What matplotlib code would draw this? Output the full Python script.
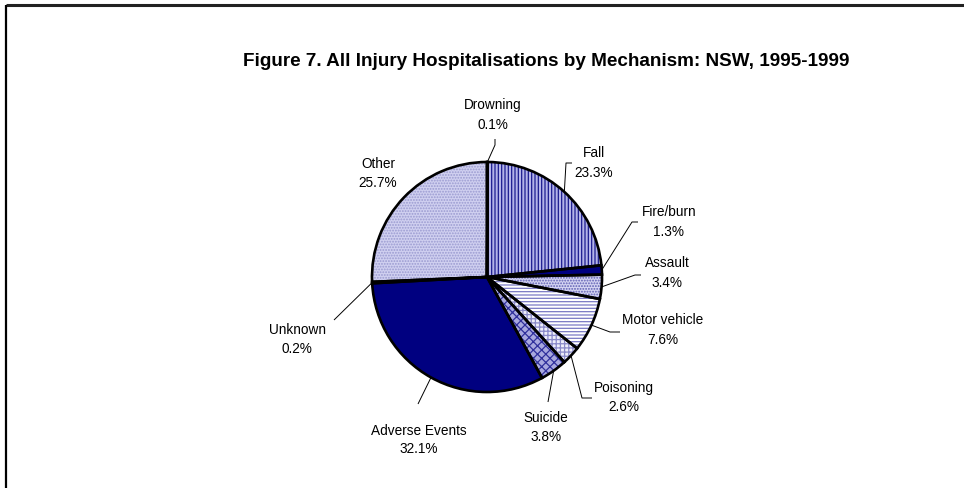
import numpy as np
import matplotlib
matplotlib.use("Agg")
import matplotlib.pyplot as plt

plt.rcParams['font.family'] = ['Liberation Sans', 'DejaVu Sans']
plt.rcParams['hatch.linewidth'] = 0.9

# ---- data ----
categories = ["Drowning", "Fall", "Fire/burn", "Assault", "Motor vehicle",
              "Poisoning", "Suicide", "Adverse Events", "Unknown", "Other"]
percent = [0.1, 23.3, 1.3, 3.4, 7.6, 2.6, 3.8, 32.1, 0.2, 25.7]
title = "Figure 7. All Injury Hospitalisations by Mechanism: NSW, 1995-1999"

# ---- styles ----
faces = ['#e0e0f4', '#b4b4e8', '#000080', '#d4d4f2', '#ffffff',
         '#eeeefa', '#a8a8de', '#000080', '#000080', '#d0d0f0']
hatches = ['....', '|||||', '', '......', '-----',
           '++++', 'xxxx', '', '', '......']
hatch_cols = ['#8080c0', '#1c1c90', '#000080', '#5e5eb2', '#7a7ac4',
              '#8a8ac8', '#30309c', '#000080', '#000080', '#9a9ad0']

# label layout (pixel coords, y down): text centre x, line1 y, line2 y
label_pos = [(493, 105, 125), (594, 153, 173), (669, 212, 232), (667, 263, 283),
             (663, 320, 340), (624, 388, 407), (546, 418, 437), (419, 431, 449),
             (297, 330, 349), (378, 164, 183)]
# leader line waypoints after the wedge edge point (pixel coords, y down)
leaders = [[(495, 145), (495, 139)], [(566, 163), (572, 163)], [(632, 222), (638, 222)],
           [(635, 275), (641, 275)], [(610, 332), (620, 332)], [(582, 398), (592, 398)],
           [(548, 402)], [(418, 404)], [(334, 320)], None]

W, H = 964, 488
CX, CY, R = 487, 277, 115


def Y(py):
    return H - py


fig = plt.figure(figsize=(W / 100, H / 100), dpi=100)
ax = fig.add_axes([0, 0, 1, 1])

w1, _ = ax.pie(percent, startangle=90, counterclock=False, center=(CX, Y(CY)),
               radius=R, colors=faces, wedgeprops=dict(linewidth=0))
for w, h, hc in zip(w1, hatches, hatch_cols):
    w.set_hatch(h)
    w.set_edgecolor(hc)
    w.set_linewidth(0)
w2, _ = ax.pie(percent, startangle=90, counterclock=False, center=(CX, Y(CY)),
               radius=R, wedgeprops=dict(fill=False, edgecolor='black', linewidth=1.9))

ax.set_xlim(0, W)
ax.set_ylim(0, H)
ax.set_aspect('equal')
ax.axis('off')

# labels and leader lines
for w, name, val, (tx, y1, y2), ld in zip(w2, categories, percent, label_pos, leaders):
    ax.text(tx, Y(y1), name, ha='center', va='center', fontsize=9.8, color='black')
    ax.text(tx, Y(y2), f"{val:.1f}%", ha='center', va='center', fontsize=9.8, color='black')
    if ld:
        mid = np.deg2rad((w.theta1 + w.theta2) / 2)
        ex, ey = CX + R * np.cos(mid), Y(CY) + R * np.sin(mid)
        xs = [ex] + [p[0] for p in ld]
        ys = [ey] + [Y(p[1]) for p in ld]
        ax.plot(xs, ys, color='black', lw=0.7, solid_capstyle='butt')

# title
ax.text(546, Y(62), title, ha='center', va='center', fontsize=13.6,
        fontweight='bold', color='black')

# frame (top and left edges)
ax.plot([6, W], [Y(5), Y(5)], color='#222222', lw=2.2, solid_capstyle='butt')
ax.plot([6, 6], [Y(5), 0], color='black', lw=1.6, solid_capstyle='butt')

fig.savefig("out.png", dpi=100)
